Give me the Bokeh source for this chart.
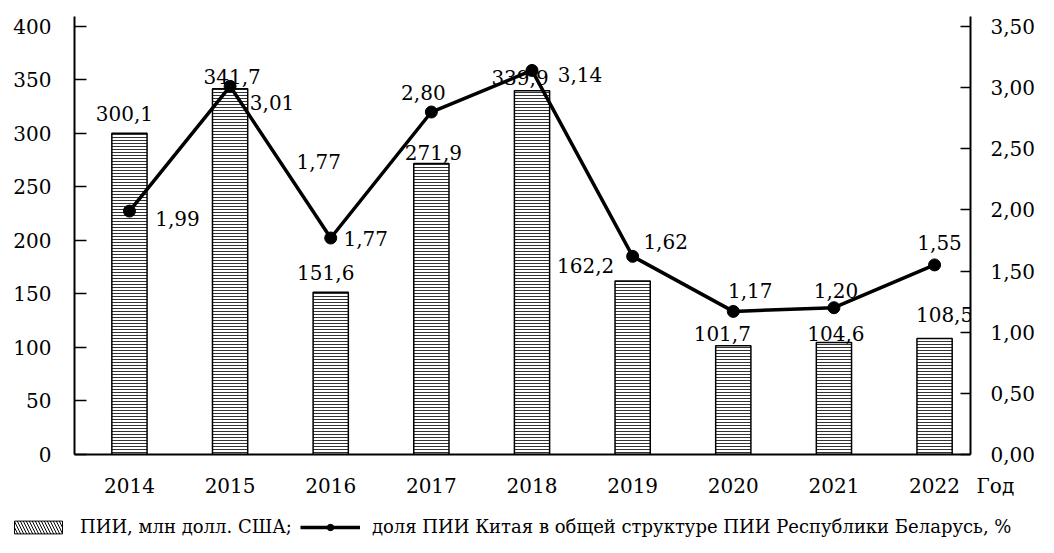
from bokeh.plotting import figure
from bokeh.layouts import column
from bokeh.models import (ColumnDataSource, Range1d, LinearAxis, FixedTicker, LabelSet, Label,
                          Legend, LegendItem, CustomJSTickFormatter)
from bokeh.core.properties import value
from bokeh.embed import file_html
from bokeh.resources import INLINE

# ---------------- data ----------------
years = [2014, 2015, 2016, 2017, 2018, 2019, 2020, 2021, 2022]
fdi = [300.1, 341.7, 151.6, 271.9, 339.9, 162.2, 101.7, 104.6, 108.5]
share = [1.99, 3.01, 1.77, 2.80, 3.14, 1.62, 1.17, 1.20, 1.55]
fdi_labels = ["300,1", "341,7", "151,6", "271,9", "339,9", "162,2", "101,7", "104,6", "108,5"]
share_labels = ["1,99", "3,01", "1,77", "2,80", "3,14", "1,62", "1,17", "1,20", "1,55"]
left_ticks = [0, 50, 100, 150, 200, 250, 300, 350, 400]
right_ticks = [0, 0.5, 1.0, 1.5, 2.0, 2.5, 3.0, 3.5]
x_title = "Год"
legend_bar = "ПИИ, млн долл. США;"
legend_line = "доля ПИИ Китая в общей структуре ПИИ Республики Беларусь, %"

# label placement (screen px offsets from the data point)
fdi_dx = [-5, 2, -5, 2, -12, -47, -11, 2, 10]
fdi_dy = [20, 12, 20, 11, 13, 15, 12, 9, 24]
share_dx = [48, 42, 35, -8, 48, 33, 17, 2, 5]
share_dy = [-7, -16, 0, 20, -4, 15, 21, 17, 22]

FONT = "DejaVu Serif"
FS = "20px"
W = 1038
H_MAIN = 507
H_LEG = 30

src = ColumnDataSource(dict(year=years, fdi=fdi, share=share,
                            fdi_lab=fdi_labels, share_lab=share_labels,
                            fdx=fdi_dx, fdy=fdi_dy, sdx=share_dx, sdy=share_dy))

X0, X1 = 2013.454, 2022.357
p = figure(width=W, height=H_MAIN, output_backend="svg", toolbar_location=None,
           x_range=Range1d(X0, X1), y_range=Range1d(0, 409.3),
           min_border_left=74, min_border_right=67, min_border_top=16,
           min_border_bottom=H_MAIN - 454)
p.extra_y_ranges = {"pct": Range1d(0, 3.581)}
p.outline_line_color = None
p.grid.visible = False
p.background_fill_color = "white"
p.border_fill_color = "white"
p.frame_align = False

# x axis: years, plus the axis title "Год" shown at the right end of the axis
p.xaxis.ticker = FixedTicker(ticks=years + [X1 - 0.001])
p.xaxis.formatter = CustomJSTickFormatter(
    args=dict(title=x_title, last=years[-1]),
    code="if (tick > last + 0.2) { return '\u2002\u2002\u2002\u2002\u2002' + title; } return tick.toFixed(0);")
p.xaxis.major_tick_in = 0
p.xaxis.major_tick_out = 0
p.xaxis.minor_tick_line_color = None
p.xaxis.major_label_standoff = 19
p.xaxis.axis_line_width = 2

p.yaxis.ticker = FixedTicker(ticks=left_ticks)
p.yaxis.major_tick_in = 12
p.yaxis.major_tick_out = 0
p.yaxis.minor_tick_line_color = None
p.yaxis.major_label_standoff = 23
p.yaxis.axis_line_width = 2
p.yaxis.major_tick_line_width = 1.5

ra = LinearAxis(y_range_name="pct", ticker=FixedTicker(ticks=right_ticks),
                formatter=CustomJSTickFormatter(code="return tick.toFixed(2).replace('.', ',');"))
ra.major_tick_in = 10
ra.major_tick_out = 0
ra.minor_tick_line_color = None
ra.major_label_standoff = 20
ra.axis_line_width = 2
ra.major_tick_line_width = 1.5
p.add_layout(ra, "right")

for ax in [p.xaxis[0], p.yaxis[0], ra]:
    ax.major_label_text_font = FONT
    ax.major_label_text_font_size = FS
    ax.major_label_text_color = "black"
    ax.axis_line_color = "black"
    ax.major_tick_line_color = "black"

# bars
BAR_STYLE = dict(fill_color="white", line_color="black", line_width=1.5,
                 hatch_pattern="horizontal_line", hatch_scale=3, hatch_weight=1,
                 hatch_color="#333333")
p.vbar(x="year", top="fdi", width=0.35, source=src, **BAR_STYLE)

# line
LINE_STYLE = dict(line_color="black", line_width=3.5)
PT_STYLE = dict(size=12, fill_color="black", line_color="black")
p.line(x="year", y="share", source=src, y_range_name="pct", **LINE_STYLE)
p.scatter(x="year", y="share", source=src, y_range_name="pct", **PT_STYLE)

# data labels
p.add_layout(LabelSet(x="year", y="fdi", text="fdi_lab", source=src,
                      x_offset="fdx", y_offset="fdy", text_align="center",
                      text_baseline="middle", text_font=value(FONT),
                      text_font_size=value(FS), text_color="black"))
p.add_layout(LabelSet(x="year", y="share", text="share_lab", source=src, y_range_name="pct",
                      x_offset="sdx", y_offset="sdy", text_align="center",
                      text_baseline="middle", text_font=value(FONT),
                      text_font_size=value(FS), text_color="black"))
# extra label present in the original
p.add_layout(Label(x=years[2], y=share[2], y_range_name="pct", text=share_labels[2],
                   x_offset=-12, y_offset=77, text_align="center", text_baseline="middle",
                   text_font=FONT, text_font_size=FS, text_color="black"))

# ---------------- legend strip ----------------
lg = figure(width=W, height=H_LEG, output_backend="svg", toolbar_location=None,
            x_range=Range1d(0, 1), y_range=Range1d(0, 1),
            x_axis_location=None, y_axis_location=None, min_border=0)
lg.frame_align = False
lg.outline_line_color = None
lg.grid.visible = False
# proxy glyphs placed outside the visible range: they only feed the legend swatches
sw = lg.quad(left=[-3], right=[-2], top=[-2], bottom=[-3], fill_color="white",
             line_color="black", line_width=1, hatch_pattern="left_diagonal_line",
             hatch_scale=6, hatch_weight=1, hatch_color="black")
ln = lg.line(x=[-3, -2], y=[-3, -2], **LINE_STYLE)
mk = lg.scatter(x=[-3], y=[-3], **PT_STYLE)
legend = Legend(items=[LegendItem(label=legend_bar, renderers=[sw]),
                       LegendItem(label=legend_line, renderers=[ln, mk])],
                orientation="horizontal", location=(8, 0),
                glyph_width=60, glyph_height=16, label_standoff=12, spacing=8,
                padding=0, margin=0, border_line_color=None, background_fill_alpha=0,
                label_text_font=FONT, label_text_font_size="18px", label_text_color="black")
lg.add_layout(legend)

layout = column(p, lg, spacing=0)
open("out.html", "w").write(file_html(layout, INLINE))
